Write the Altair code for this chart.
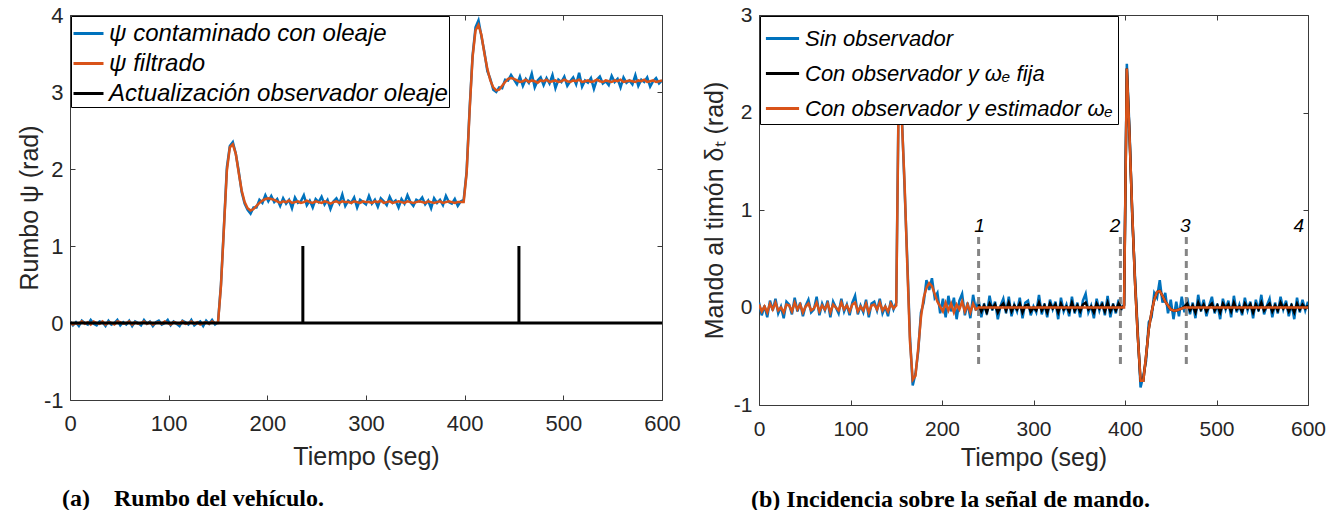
import altair as alt
import pandas as pd

# ---------------- data ----------------
T3 = list(range(0, 601, 3))  # sample instants (s)

LEFT_NAMES = ["ψ contaminado con oleaje", "ψ filtrado", "Actualización observador oleaje"]
RIGHT_NAMES = ["Sin observador", "Con observador y ωₑ fija", "Con observador y estimador ωₑ"]
BLUE, ORANGE, BLACK = "#0072BD", "#D95319", "#000000"

L_BLUE = [
    0.02, -0.03, 0.01, -0.04, 0.03, 0.00, -0.02, 0.04, -0.01, -0.03,
    0.02, 0.01, -0.04, 0.03, -0.02, 0.00, 0.04, -0.03, 0.01, -0.02,
    0.03, -0.04, 0.02, 0.00, -0.03, 0.04, -0.01, 0.02, -0.04, 0.01,
    0.03, -0.02, 0.00, 0.04, -0.03, 0.02, -0.01, -0.04, 0.03, 0.01,
    -0.02, 0.04, -0.03, 0.00, 0.02, -0.04, 0.03, -0.01, 0.04, -0.02,
    0.01,
    0.5, 1.25, 2.02, 2.3, 2.35, 2.2, 1.97, 1.7, 1.55, 1.47, 1.42, 1.5, 1.5, 1.6, 1.56, 1.66, 1.58, 1.65, 1.57, 1.61,
    1.52, 1.62, 1.55, 1.6, 1.49, 1.63, 1.56, 1.58, 1.66, 1.53,
    1.59, 1.5, 1.61, 1.57, 1.64, 1.54, 1.6, 1.48, 1.58, 1.62,
    1.55, 1.67, 1.52, 1.59, 1.56, 1.63, 1.5, 1.6, 1.57, 1.54,
    1.65, 1.55, 1.6, 1.51, 1.62, 1.58, 1.53, 1.64, 1.56, 1.59,
    1.5, 1.61, 1.55, 1.66, 1.57, 1.52, 1.6, 1.58, 1.63, 1.54,
    1.59, 1.49, 1.62, 1.56, 1.6, 1.53, 1.65, 1.57, 1.55, 1.61,
    1.52, 1.58,
    1.6, 1.97, 2.78, 3.47, 3.84, 3.93, 3.72, 3.52, 3.27, 3.17, 3.03, 3.0, 3.06, 3.05, 3.16, 3.15, 3.22, 3.16,
    3.1, 3.2, 3.08, 3.17, 3.12, 3.24, 3.06, 3.15, 3.19, 3.09,
    3.18, 3.11, 3.22, 3.05, 3.16, 3.13, 3.2, 3.08, 3.14, 3.19,
    3.1, 3.25, 3.07, 3.15, 3.12, 3.18, 3.04, 3.16, 3.2, 3.11,
    3.14, 3.09, 3.21, 3.13, 3.17, 3.06, 3.19, 3.12, 3.15, 3.1,
    3.22, 3.08, 3.16, 3.13, 3.19, 3.07, 3.14, 3.18, 3.11, 3.15,
]

L_ORANGE = [
    0.01, -0.02, 0.0, -0.01, 0.02, -0.01, 0.01, -0.02, 0.02, 0.0,
    -0.01, 0.02, -0.02, 0.01, 0.0, -0.02, 0.02, 0.01, -0.01, 0.0,
    0.02, -0.02, 0.01, -0.01, 0.0, 0.02, -0.01, 0.01, -0.02, 0.0,
    0.01, -0.01, 0.02, 0.0, -0.02, 0.01, 0.0, -0.01, 0.02, -0.01,
    0.0, 0.02, -0.01, 0.01, -0.02, 0.0, 0.01, -0.01, 0.02, 0.0,
    0.0,
    0.48, 1.23, 1.98, 2.28, 2.32, 2.2, 1.95, 1.72, 1.57, 1.49, 1.46, 1.48, 1.52, 1.56, 1.59, 1.61, 1.62, 1.61, 1.6, 1.58,
    1.56, 1.58, 1.57, 1.59, 1.56, 1.57, 1.58, 1.56, 1.57, 1.59,
    1.57, 1.56, 1.58, 1.57, 1.56, 1.58, 1.57, 1.55, 1.57, 1.58,
    1.56, 1.58, 1.57, 1.57, 1.56, 1.58, 1.57, 1.56, 1.58, 1.57,
    1.57, 1.56, 1.58, 1.57, 1.59, 1.56, 1.57, 1.58, 1.56, 1.57,
    1.58, 1.57, 1.56, 1.58, 1.57, 1.56, 1.57, 1.58, 1.57, 1.56,
    1.58, 1.57, 1.56, 1.57, 1.58, 1.56, 1.57, 1.58, 1.57, 1.56,
    1.57, 1.57,
    1.57, 1.95, 2.75, 3.45, 3.8, 3.87, 3.74, 3.5, 3.3, 3.15, 3.06, 3.02, 3.03, 3.08, 3.13, 3.17, 3.18, 3.17,
    3.15, 3.13, 3.14, 3.16, 3.13, 3.15, 3.14, 3.12, 3.15, 3.14,
    3.16, 3.13, 3.14, 3.15, 3.13, 3.14, 3.16, 3.14, 3.13, 3.15,
    3.14, 3.16, 3.13, 3.14, 3.15, 3.13, 3.14, 3.16, 3.14, 3.13,
    3.15, 3.14, 3.13, 3.15, 3.14, 3.16, 3.13, 3.14, 3.15, 3.14,
    3.13, 3.15, 3.14, 3.16, 3.13, 3.14, 3.15, 3.13, 3.14, 3.15,
]

L_BLACK_T = [0, 236, 236, 236, 455, 455, 455, 600]
L_BLACK_V = [0, 0, 1, 0, 0, 1, 0, 0]

R_BLUE = [
    0.05, -0.08, 0.02, -0.1, 0.07, -0.03, 0.09, -0.06, 0.01, -0.11,
    0.06, 0.03, -0.07, 0.1, -0.04, 0.05, -0.09, 0.02, 0.08, -0.05,
    -0.02, 0.11, -0.08, 0.04, -0.03, 0.07, -0.1, 0.06, 0.0, -0.06,
    0.09, -0.04, 0.03, -0.08, 0.05, 0.12, -0.07, 0.02, -0.05, 0.08,
    -0.1, 0.04, 0.06, -0.03, 0.09, -0.06, 0.01, -0.09, 0.07, -0.02,
    0.05,
    2.5, 2.0, 1.25, 0.5, -0.3, -0.8, -0.68, -0.45, -0.05, 0.05, 0.28, 0.18, 0.3, 0.1, 0.15,
    -0.06, 0.09, -0.1, 0.12, -0.04, 0.1, -0.12, 0.07, 0.14, -0.08, 0.05, -0.11, 0.13, -0.03,
    0.08, -0.1, 0.04, -0.07, 0.12, -0.03, 0.06, -0.12, 0.02, 0.09,
    -0.06, 0.11, -0.09, 0.03, -0.04, 0.1, -0.11, 0.05, 0.07, -0.08,
    0.01, -0.05, 0.13, -0.07, 0.04, -0.1, 0.08, -0.02, 0.06, -0.12,
    0.1, -0.04, 0.03, -0.09, 0.11, -0.06, 0.05, -0.1, 0.07, 0.14,
    -0.05, 0.02, -0.11, 0.09, -0.03, 0.06, -0.08, 0.12, -0.1, 0.04,
    -0.06, 0.08, -0.02,
    0.03, 2.5, 1.8, 0.9, 0.3, -0.25, -0.82, -0.7, -0.55, -0.15, -0.1, 0.15, 0.1, 0.28, 0.05,
    0.15, -0.06, 0.08, -0.12, 0.06, -0.09, 0.11, -0.05,
    0.1, -0.07, 0.05, -0.11, 0.13, -0.04, 0.08, -0.09, 0.02, 0.11,
    -0.06, 0.04, -0.12, 0.09, -0.02, 0.07, -0.1, 0.12, -0.05, 0.03,
    -0.08, 0.1, -0.03, 0.06, -0.11, 0.08, -0.04, 0.13, -0.07, 0.02,
    0.09, -0.1, 0.05, -0.06, 0.11, -0.02, 0.07, -0.09, 0.04, -0.12,
    0.1, -0.05, 0.08, -0.03, 0.06,
]

R_BLACK_T = list(range(240, 601, 3))
R_BLACK = [
    0.03, -0.04, 0.02, -0.05, 0.04, -0.01, 0.03, -0.05, 0.01, 0.04,
    -0.03, 0.05, -0.04, 0.02, -0.02, 0.04, -0.05, 0.02, 0.03, -0.04,
    0.0, -0.03, 0.05, -0.03, 0.02, -0.05, 0.04, -0.01, 0.03, -0.05,
    0.04, -0.02, 0.01, -0.04, 0.05, -0.03, 0.02, -0.04, 0.03, 0.05,
    -0.02, 0.01, -0.05, 0.04, -0.01, 0.03, -0.04, 0.05, -0.04, 0.02,
    -0.03, 0.04, -0.01,
    0.02, 2.45, 1.75, 0.95, 0.25, -0.3, -0.75, -0.75, -0.5, -0.22, -0.05, 0.08, 0.16, 0.17, 0.12,
    0.06, 0.02, -0.02, -0.03, -0.03, -0.02, -0.01, 0.01,
    0.04, -0.03, 0.02, -0.05, 0.05, -0.02, 0.03, -0.04, 0.01, 0.04,
    -0.03, 0.02, -0.05, 0.04, -0.01, 0.03, -0.04, 0.05, -0.02, 0.01,
    -0.04, 0.04, -0.01, 0.03, -0.05, 0.03, -0.02, 0.05, -0.03, 0.01,
    0.04, -0.04, 0.02, -0.03, 0.05, -0.01, 0.03, -0.04, 0.02, -0.05,
    0.04, -0.02, 0.03, -0.01, 0.02,
]

R_ORANGE_T = list(range(0, 241, 3)) + [396] + list(range(399, 466, 3)) + [600]
R_ORANGE = [
    0.03, -0.04, 0.01, -0.05, 0.04, -0.02, 0.05, -0.03, 0.0, -0.05,
    0.03, 0.02, -0.04, 0.05, -0.02, 0.03, -0.05, 0.01, 0.04, -0.03,
    -0.01, 0.05, -0.04, 0.02, -0.02, 0.04, -0.05, 0.03, 0.0, -0.03,
    0.05, -0.02, 0.02, -0.04, 0.03, 0.05, -0.04, 0.01, -0.03, 0.04,
    -0.05, 0.02, 0.03, -0.02, 0.05, -0.03, 0.01, -0.04, 0.04, -0.01,
    0.02,
    2.45, 1.95, 1.3, 0.45, -0.35, -0.74, -0.7, -0.42, -0.1, 0.1, 0.2, 0.25, 0.22, 0.14, 0.06,
    0.01, -0.04, 0.05, -0.03, 0.04, -0.05, 0.03, -0.02, 0.06, -0.04, 0.03, -0.05, 0.04, -0.02, 0.0,
    0.0,
    0.0, 2.45, 1.75, 0.95, 0.25, -0.3, -0.75, -0.75, -0.5, -0.22, -0.05, 0.08, 0.16, 0.17, 0.12,
    0.06, 0.02, -0.02, -0.03, -0.03, -0.02, -0.01, 0.0,
    0.0,
]

MARK_T = [240, 395, 467]
MARK_LO, MARK_HI = -0.58, 0.74
LABEL_T = [241, 389, 466, 590]
LABEL_TXT = ["1", "2", "3", "4"]
LABEL_Y = 0.84

assert len(L_BLUE) == len(T3) and len(L_ORANGE) == len(T3) and len(R_BLUE) == len(T3)
assert len(R_BLACK) == len(R_BLACK_T) and len(R_ORANGE) == len(R_ORANGE_T)

# ---------------- styling ----------------
FONT = "Liberation Sans"
TXT = "#262626"
LBL = "'' + datum.value"  # plain hyphen for negatives, as in the original


def sdf(t, v, name):
    return pd.DataFrame({"t": t, "v": v, "s": name, "k": list(range(len(t)))})


def ax_bottom(fs, tfs, tpad):
    return alt.Axis(orient="bottom", values=list(range(0, 601, 100)), offset=-5, tickSize=5,
                    domain=False, grid=False, labelPadding=13, labelFlush=False,
                    labelFontSize=fs, titleFontSize=tfs, title="Tiempo (seg)",
                    titlePadding=tpad, labelExpr=LBL)


def ax_left(vals, title, fs, tfs, tpad):
    return alt.Axis(orient="left", values=vals, offset=-5, tickSize=5, domain=False, grid=False,
                    labelPadding=7, labelFlush=False, labelFontSize=fs, titleFontSize=tfs,
                    title=title, titlePadding=tpad, labelExpr=LBL)


def ax_top():
    return alt.Axis(orient="top", values=list(range(0, 601, 100)), offset=-5, tickSize=5,
                    domain=False, grid=False, labels=False, title=None)


def ax_right(vals):
    return alt.Axis(orient="right", values=vals, offset=-5, tickSize=5, domain=False, grid=False,
                    labels=False, title=None)


def panel(series, names, colors, ydom, yvals, ytitle, w, h, caption, cap_off,
          fs, tfs, lfs, ytpad, xtpad, legpad, symsize, rowpad, extra=None):
    xs = alt.Scale(domain=[0, 600], nice=False, zero=False)
    ys = alt.Scale(domain=ydom, nice=False, zero=False)
    cs = alt.Scale(domain=names, range=colors)
    leg = alt.Legend(orient="top-left", offset=1, title=None, labelFont=FONT, labelFontSize=lfs,
                     labelFontStyle="italic", labelColor="black", labelLimit=0,
                     symbolType="stroke", symbolSize=symsize, symbolStrokeWidth=3,
                     fillColor="white", strokeColor="black", padding=legpad, rowPadding=rowpad,
                     labelOffset=4)
    layers = []
    # invisible layer carrying the top/right tick marks
    d0 = series[0][0]
    layers.append(alt.Chart(d0).mark_line(opacity=0).encode(
        x=alt.X("t:Q", scale=xs, axis=ax_top()),
        y=alt.Y("v:Q", scale=ys, axis=ax_right(yvals)),
    ))
    first = True
    for item in series:
        if item[0] is None:
            layers.append(extra)
            continue
        d, sw = item
        layers.append(alt.Chart(d).mark_line(strokeWidth=sw, clip=True).encode(
            x=alt.X("t:Q", scale=xs, axis=ax_bottom(fs, tfs, xtpad) if first else None),
            y=alt.Y("v:Q", scale=ys, axis=ax_left(yvals, ytitle, fs, tfs, ytpad) if first else None),
            color=alt.Color("s:N", scale=cs, legend=leg),
            order=alt.Order("k:Q"),
        ))
        first = False
    return alt.layer(*layers).resolve_axis(x="independent", y="independent").properties(
        width=w, height=h,
        title=alt.TitleParams(caption, orient="bottom", anchor="start", frame="group",
                              font="Liberation Serif", fontSize=24, fontWeight="bold",
                              color="black", dx=-8, offset=cap_off),
    )


left = panel(
    [(sdf(T3, L_BLUE, LEFT_NAMES[0]), 2.5),
     (sdf(T3, L_ORANGE, LEFT_NAMES[1]), 2.5),
     (sdf(L_BLACK_T, L_BLACK_V, LEFT_NAMES[2]), 3)],
    LEFT_NAMES, [BLUE, ORANGE, BLACK], [-1, 4], [-1, 0, 1, 2, 3, 4], "Rumbo ψ (rad)",
    592, 385, "(a)\u00a0\u00a0\u00a0\u00a0Rumbo del vehículo.", 18,
    fs=22, tfs=25, lfs=24, ytpad=1, xtpad=10, legpad=1, symsize=900, rowpad=1,
)

xs_r = alt.Scale(domain=[0, 600], nice=False, zero=False)
ys_r = alt.Scale(domain=[-1, 3], nice=False, zero=False)
marks_df = pd.DataFrame({"t": MARK_T, "lo": [MARK_LO] * 3, "hi": [MARK_HI] * 3})
labels_df = pd.DataFrame({"t": LABEL_T, "y": [LABEL_Y] * 4, "txt": LABEL_TXT})
dashed = alt.layer(
    alt.Chart(marks_df).mark_rule(color="#858585", strokeWidth=3, strokeDash=[7, 5]).encode(
        x=alt.X("t:Q", scale=xs_r, axis=None),
        y=alt.Y("lo:Q", scale=ys_r, axis=None), y2="hi:Q"),
    alt.Chart(labels_df).mark_text(font=FONT, fontSize=19, fontStyle="italic", color="black",
                                   baseline="middle", align="center").encode(
        x=alt.X("t:Q", scale=xs_r, axis=None),
        y=alt.Y("y:Q", scale=ys_r, axis=None), text="txt:N"),
)

right = panel(
    [(sdf(T3, R_BLUE, RIGHT_NAMES[0]), 2.5),
     (None, None),
     (sdf(R_BLACK_T, R_BLACK, RIGHT_NAMES[1]), 2.5),
     (sdf(R_ORANGE_T, R_ORANGE, RIGHT_NAMES[2]), 2.5)],
    RIGHT_NAMES, [BLUE, BLACK, ORANGE], [-1, 3], [-1, 0, 1, 2, 3], "Mando al timón δₜ (rad)",
    549, 390, "(b) Incidencia sobre la señal de mando.", 18,
    fs=21, tfs=25, lfs=22, ytpad=6, xtpad=6, legpad=4, symsize=1100, rowpad=5, extra=dashed,
)

chart = alt.hconcat(left, right, spacing=97, bounds="flush").resolve_scale(
    x="independent", y="independent", color="independent"
).properties(
    background="white", padding={"left": 16, "top": 3, "right": 5, "bottom": 5}
).configure_view(stroke="#3a3a3a", strokeWidth=1).configure_axis(
    labelFont=FONT, labelColor=TXT,
    titleFont=FONT, titleFontWeight="normal", titleColor=TXT,
    tickColor="#3a3a3a", tickWidth=1,
)

chart.save("out.html", embed_options={"renderer": "svg", "actions": False})
